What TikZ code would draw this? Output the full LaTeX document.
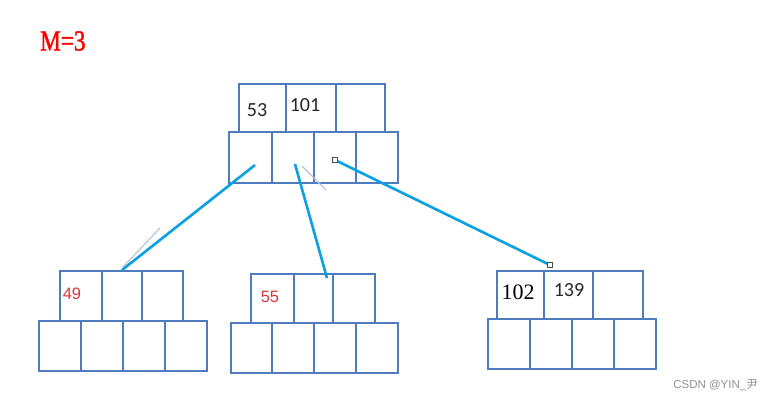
\documentclass[tikz,border=0pt]{standalone}
\usepackage{fontspec}
\setmainfont{Liberation Serif}
\newfontfamily\calibrif{Carlito}
\newfontfamily\arialf{Liberation Sans}
\newfontfamily\titlef[FakeStretch=0.8,FakeBold=1.5]{Liberation Serif}
\newfontfamily\cjkf{Noto Sans CJK SC}
\definecolor{boxblue}{HTML}{4F7BBF}
\definecolor{linkblue}{HTML}{0AA0E4}
\definecolor{numred}{HTML}{D9383A}
\definecolor{faint}{HTML}{B8C4D8}
\begin{document}
\begin{tikzpicture}[x=1pt,y=-1pt,
  cell/.style={draw=boxblue, line width=2.4pt, inner sep=0pt, anchor=north west},
  link/.style={draw=linkblue, line width=2.6pt},
  ghost/.style={draw=faint, line width=1.2pt},
  mk/.style={draw=black!70, fill=white, line width=0.6pt, inner sep=0pt, minimum size=4.5pt},
  num/.style={text=black!85, font=\calibrif\fontsize{20}{20}\selectfont, inner sep=0pt},
  rnum/.style={text=numred, font=\arialf\fontsize{16.5}{16.5}\selectfont, inner sep=0pt}]
\useasboundingbox (0,0) rectangle (772,400);
\fill[white] (0,0) rectangle (772,400);
% title
\node[text=red, font=\titlef\fontsize{29}{29}\selectfont, anchor=west, inner sep=0pt] (title) at (40,41) {M=3};
% root node
\node[cell, minimum width=47pt, minimum height=48pt] (r1) at (238,83) {};
\node[cell, minimum width=50pt, minimum height=48pt] (r2) at (285,83) {};
\node[cell, minimum width=49pt, minimum height=48pt] (r3) at (335,83) {};
\node[cell, minimum width=43pt, minimum height=51pt] (rb1) at (228,131) {};
\node[cell, minimum width=42pt, minimum height=51pt] (rb2) at (271,131) {};
\node[cell, minimum width=42pt, minimum height=51pt] (rb3) at (313,131) {};
\node[cell, minimum width=42pt, minimum height=51pt] (rb4) at (355,131) {};
\node[num] (k53) at (257,110) {53};
\node[num] (k101) at (305,105) {101};
% left child
\node[cell, minimum width=42pt, minimum height=50pt] (a1) at (59,270) {};
\node[cell, minimum width=40pt, minimum height=50pt] (a2) at (101,270) {};
\node[cell, minimum width=41pt, minimum height=50pt] (a3) at (141,270) {};
\node[cell, minimum width=42pt, minimum height=50pt] (ab1) at (38,320) {};
\node[cell, minimum width=42pt, minimum height=50pt] (ab2) at (80,320) {};
\node[cell, minimum width=42pt, minimum height=50pt] (ab3) at (122,320) {};
\node[cell, minimum width=42pt, minimum height=50pt] (ab4) at (164,320) {};
\node[rnum] (k49) at (72,294) {49};
% middle child
\node[cell, minimum width=43pt, minimum height=49pt] (b1) at (250,273) {};
\node[cell, minimum width=39pt, minimum height=49pt] (b2) at (293,273) {};
\node[cell, minimum width=42pt, minimum height=49pt] (b3) at (332,273) {};
\node[cell, minimum width=41pt, minimum height=50pt] (bb1) at (230,322) {};
\node[cell, minimum width=42pt, minimum height=50pt] (bb2) at (271,322) {};
\node[cell, minimum width=42pt, minimum height=50pt] (bb3) at (313,322) {};
\node[cell, minimum width=42pt, minimum height=50pt] (bb4) at (355,322) {};
\node[rnum] (k55) at (270,297) {55};
% right child
\node[cell, minimum width=47pt, minimum height=48pt] (c1) at (496,270) {};
\node[cell, minimum width=49pt, minimum height=48pt] (c2) at (543,270) {};
\node[cell, minimum width=50pt, minimum height=48pt] (c3) at (592,270) {};
\node[cell, minimum width=42pt, minimum height=50pt] (cb1) at (487,318) {};
\node[cell, minimum width=42pt, minimum height=50pt] (cb2) at (529,318) {};
\node[cell, minimum width=42pt, minimum height=50pt] (cb3) at (571,318) {};
\node[cell, minimum width=42pt, minimum height=50pt] (cb4) at (613,318) {};
\node[inner sep=0pt, font=\fontsize{22}{22}\selectfont] (k102) at (518,292) {102};
\node[num] (k139) at (569,290) {139};
% faint traces
\coordinate (g1a) at (160,228);
\coordinate (g1b) at (123,267);
\draw[ghost] (g1a) -- (g1b);
\coordinate (g2a) at (302,166);
\coordinate (g2b) at (326,190);
\draw[ghost] (g2a) -- (g2b);
% connectors
\coordinate (p1) at (255,165);
\coordinate (q1) at (122,270);
\coordinate (p2) at (295,164);
\coordinate (q2) at (327,278);
\coordinate (p3) at (335,160);
\coordinate (q3) at (550,265);
\draw[link] (p1) -- (q1);
\draw[link] (p2) -- (q2);
\draw[link] (p3) -- (q3);
\node[mk] (m1) at (p3) {};
\node[mk] (m2) at (q3) {};
% watermark
\node[text=gray!85, font=\arialf\fontsize{11.5}{11.5}\selectfont, anchor=east, inner sep=0pt] (wm) at (758,385) {CSDN @YIN\_{\cjkf 尹}};
\end{tikzpicture}
\end{document}
